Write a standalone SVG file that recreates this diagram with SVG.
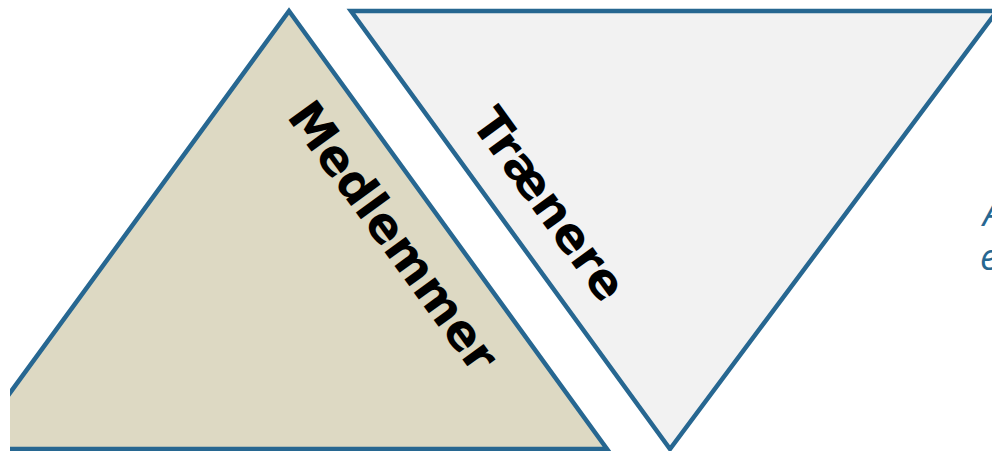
<svg xmlns="http://www.w3.org/2000/svg" width="992" height="451" viewBox="0 0 992 451">
<style>
.tri{stroke:#276791;stroke-width:4.5;stroke-linejoin:miter}
.lbl{font-family:"DejaVu Sans",sans-serif;font-weight:bold;font-size:48px;fill:#000}
.side{font-family:"Open Sans","DejaVu Sans",sans-serif;font-style:italic;font-size:36px;fill:#276791}
</style>
<defs><clipPath id="c"><rect x="10" y="0" width="982" height="451"/></clipPath></defs>
<rect width="992" height="451" fill="#fff"/>
<g id="medlemmer" clip-path="url(#c)">
<polygon class="tri" points="289,11 607,449 -31,449" fill="#ddd9c3"/>
<text class="lbl" text-anchor="middle" transform="translate(380,246) rotate(54)">Medlemmer</text>
</g>
<g id="traenere">
<polygon class="tri" points="351,11 997,11 670,449" fill="#f2f2f2"/>
<text class="lbl" text-anchor="middle" transform="translate(536,214) rotate(54)">Trænere</text>
</g>
<g id="side-text">
<text class="side" x="983" y="226">A</text>
<text class="side" x="980" y="270">e</text>
</g>
</svg>
